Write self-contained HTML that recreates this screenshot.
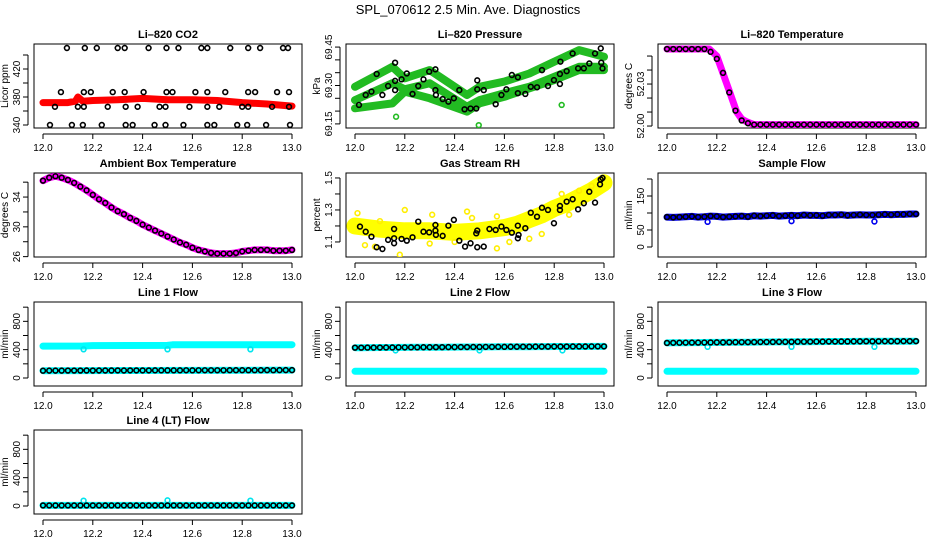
<!DOCTYPE html>
<html><head><meta charset="utf-8"><style>
html,body{margin:0;padding:0;background:#fff;}
svg{display:block;font-family:"Liberation Sans",Arial,sans-serif;}
</style></head><body>
<svg id="c" width="936" height="540" viewBox="0 0 936 540"></svg>
<script>
// ---------- data ----------
const T41 = [12.000,12.025,12.050,12.075,12.100,12.125,12.150,12.175,12.200,12.225,12.250,12.275,12.300,12.325,12.350,12.375,12.400,12.425,12.450,12.475,12.500,12.525,12.550,12.575,12.600,12.625,12.650,12.675,12.700,12.725,12.750,12.775,12.800,12.825,12.850,12.875,12.900,12.925,12.950,12.975,13.000];
const xTicks = [12.0,12.2,12.4,12.6,12.8,13.0];
const xTickLabels = ["12.0","12.2","12.4","12.6","12.8","13.0"];

// CO2
const co2X = [12.096,12.168,12.216,12.30,12.328,12.424,12.496,12.544,12.636,12.66,12.752,12.824,12.872,12.964,12.984,
 12.072,12.164,12.192,12.28,12.328,12.404,12.496,12.52,12.612,12.66,12.732,12.824,12.852,12.94,12.988,
 12.048,12.14,12.164,12.26,12.332,12.38,12.468,12.492,12.588,12.66,12.708,12.80,12.824,12.92,12.988,
 12.028,12.116,12.16,12.236,12.332,12.36,12.448,12.492,12.564,12.66,12.688,12.78,12.82,12.896,12.992];
const co2Y = [450,450,450,450,450,450,450,450,450,450,450,450,450,450,450,
 387,387,387,387,387,387,387,387,387,387,387,387,387,387,387,
 366,366,366,366,366,366,366,366,366,366,366,366,366,366,366,
 340,340,340,340,340,340,340,340,340,340,340,340,340,340,340];
const co2BandX = [12.0,12.1,12.13,12.14,12.16,12.2,12.3,12.4,12.5,12.6,12.7,12.8,12.9,13.0];
const co2BandY = [372,372,374,380,374,375,376,378,376,376,375,372,370,367];

// Pressure
const presBandX = [12.0,12.15,12.2,12.3,12.45,12.5,12.6,12.7,12.8,12.9,13.0];
const presBandA = [69.295,69.373,69.328,69.36,69.263,69.295,69.315,69.347,69.393,69.438,69.412];
const presBandB = [69.243,69.309,69.285,69.309,69.217,69.243,69.27,69.295,69.334,69.373,69.373];
const presBandC = [69.211,69.23,69.276,69.25,69.198,69.23,69.256,69.289,69.321,69.36,69.36];
const presX = [12.016,12.043,12.066,12.087,12.11,12.133,12.161,12.161,12.161,12.187,12.208,12.231,12.254,12.275,12.298,12.323,12.323,12.325,12.352,12.375,12.397,12.419,12.44,12.464,12.487,12.491,12.491,12.517,12.565,12.588,12.608,12.63,12.654,12.654,12.684,12.706,12.731,12.751,12.775,12.799,12.823,12.823,12.825,12.85,12.874,12.896,12.919,12.941,12.964,12.987,12.989,12.994];
const presY = [69.224,69.263,69.276,69.345,69.263,69.298,69.318,69.282,69.389,69.324,69.347,69.267,69.298,69.324,69.354,69.363,69.282,69.263,69.247,69.237,69.25,69.282,69.207,69.21,69.21,69.32,69.285,69.282,69.227,69.263,69.285,69.341,69.332,69.27,69.267,69.295,69.293,69.36,69.298,69.321,69.306,69.345,69.393,69.356,69.425,69.367,69.367,69.386,69.425,69.445,69.389,69.367];
const presOutX = [12.165,12.497,12.83];
const presOutY = [69.178,69.145,69.224];

// Li-820 temperature
const tempBandX = [12.0,12.17,12.2,12.22,12.25,12.28,12.3,12.32,12.35,13.0];
const tempBandY = [52.055,52.055,52.05,52.04,52.025,52.01,52.005,52.003,52.001,52.001];
const tempY = [52.055,52.055,52.055,52.055,52.055,52.055,52.055,52.053,52.048,52.038,52.024,52.011,52.004,52.002,
 52.001,52.001,52.001,52.001,52.001,52.001,52.001,52.001,52.001,52.001,52.001,52.001,52.001,52.001,52.001,52.001,52.001,52.001,52.001,52.001,52.001,52.001,52.001,52.001,52.001,52.001,52.001];

// Ambient box temperature
const ambY = [36.2,36.6,36.8,36.6,36.3,35.9,35.4,34.9,34.3,33.7,33.2,32.6,32.1,31.7,31.2,30.8,30.3,29.9,29.5,29.1,28.7,28.3,27.9,27.6,27.2,26.9,26.7,26.5,26.4,26.4,26.4,26.5,26.7,26.8,26.9,26.9,26.9,26.8,26.8,26.8,26.9];

// Gas stream RH
const rhBandX = [12.0,12.1,12.2,12.3,12.4,12.5,12.6,12.65,12.7,12.75,12.8,12.85,12.9,12.95,13.0];
const rhBandY = [1.2,1.18,1.17,1.17,1.16,1.17,1.19,1.21,1.24,1.27,1.31,1.34,1.38,1.42,1.47];
const rhX = [12.02,12.043,12.066,12.087,12.11,12.133,12.157,12.157,12.157,12.187,12.208,12.231,12.254,12.275,12.298,12.323,12.323,12.325,12.352,12.375,12.397,12.419,12.442,12.464,12.487,12.491,12.491,12.517,12.54,12.565,12.588,12.608,12.63,12.654,12.654,12.657,12.684,12.706,12.731,12.751,12.775,12.799,12.823,12.823,12.85,12.874,12.896,12.919,12.941,12.964,12.984,12.987,12.994];
const rhY = [1.196,1.164,1.133,1.067,1.056,1.113,1.123,1.092,1.181,1.119,1.108,1.129,1.227,1.164,1.16,1.206,1.171,1.144,1.138,1.202,1.238,1.108,1.071,1.092,1.154,1.171,1.067,1.071,1.181,1.175,1.196,1.175,1.158,1.202,1.123,1.144,1.186,1.283,1.258,1.314,1.3,1.217,1.325,1.3,1.352,1.367,1.304,1.342,1.414,1.346,1.46,1.49,1.5];
const rhYelX = [12.01,12.2,12.31,12.45,12.57,12.18,12.57,12.04,12.75,12.9,12.83,12.7,12.1,12.4,12.62,12.3,12.47,12.86,12.95,12.08];
const rhYelY = [1.28,1.3,1.27,1.29,1.26,1.02,1.06,1.08,1.15,1.42,1.4,1.12,1.23,1.1,1.1,1.09,1.25,1.27,1.45,1.07];

// Sample flow
const sfY = [88,87,88,89,90,88,89,91,90,88,89,90,91,89,92,91,92,93,91,92,93,92,94,93,93,92,94,94,95,93,94,95,94,94,95,96,95,96,96,97,97];
const sfDipX = [12.163,12.5,12.833];
const sfDipY = [74,76,75];

// Line flows
const l1Y = [103,104,104,104,105,105,105,106,105,106,106,106,107,106,107,107,107,107,108,108,108,108,108,109,108,109,109,109,109,109,110,110,110,110,110,110,111,110,111,111,111];
const l1UpX = [12.0,12.16,12.2,12.5,12.52,13.0];
const l1UpY = [450,452,458,460,468,470];
const l1LowX = [12.0,13.0];
const l1LowY = [103,111];
const l2Y = [428,428,429,429,430,431,431,432,432,433,433,434,434,435,435,436,436,437,437,438,438,439,439,440,440,441,441,442,442,443,443,443,444,444,444,445,445,445,446,446,446];
const l2LowX = [12.0,13.0];
const l2LowY = [95,96];
const l3Y = [495,497,498,499,500,500,501,502,503,503,504,505,506,506,507,508,508,509,510,510,511,512,512,513,514,514,515,515,516,516,517,517,518,518,518,519,519,519,520,520,520];
const l3LowX = [12.0,13.0];
const l3LowY = [95,96];
const l4Y = [8,8,8,8,8,8,8,8,8,8,8,8,8,8,8,8,8,8,8,8,8,8,8,8,8,8,8,8,8,8,8,8,8,8,8,8,8,8,8,8,8];
const l4BandX = [12.0,13.0];
const l4BandY = [8,8];
const flowDipX = [12.163,12.5,12.833];
const l1DipY = [405,405,405];
const l2DipY = [390,390,390];
const l3DipY = [440,440,440];
const l4DipY = [75,80,75];

// ---------- drawing ----------
const NS = "http://www.w3.org/2000/svg";
const svg = document.getElementById("c");
function mk(tag, attrs, parent){
  const e = document.createElementNS(NS, tag);
  for (const k in attrs) e.setAttribute(k, attrs[k]);
  (parent||svg).appendChild(e);
  return e;
}
const colsL = [34,346,658], rowsT = [44,173,302,430], W = 268, H = 84;

function panel(col,row,name,title,ylab,ylim,yt,ylabs){
  const L = colsL[col], T = rowsT[row];
  const g = mk("g",{});
  
  
  const sx = v => L + 9 + (v-12)*249;
  const sy = v => T + H - (v-ylim[0])/(ylim[1]-ylim[0])*H;
  const box = mk("rect",{x:L,y:T,width:W,height:H,fill:"none",stroke:"#000","stroke-width":1},g);
  
  
  const t = mk("text",{x:L+W/2,y:T-6,"text-anchor":"middle","font-size":"11","font-weight":"bold"},g);
  t.textContent = title;
  
  
  const xa = mk("g",{},g);
  
  
  mk("line",{x1:sx(xTicks[0]),x2:sx(xTicks[xTicks.length-1]),y1:T+H+6,y2:T+H+6,stroke:"#000"},xa);
  xTicks.forEach((v,i)=>{
    mk("line",{x1:sx(v),x2:sx(v),y1:T+H+6,y2:T+H+11,stroke:"#000"},xa);
    const tl = mk("text",{x:sx(v),y:T+H+23,"text-anchor":"middle","font-size":"10"},xa);
    tl.textContent = xTickLabels[i];
    
    
  });
  const ya = mk("g",{},g);
  
  
  mk("line",{x1:L-6,x2:L-6,y1:sy(yt[0]),y2:sy(yt[yt.length-1]),stroke:"#000"},ya);
  yt.forEach(v=>{
    mk("line",{x1:L-11,x2:L-6,y1:sy(v),y2:sy(v),stroke:"#000"},ya);
  });
  ylabs.forEach(l=>{
    const v = parseFloat(l);
    const tl = mk("text",{x:0,y:0,"text-anchor":"middle","font-size":"10",transform:`translate(${L-14},${sy(v)}) rotate(-90)`},ya);
    tl.textContent = l;
    
    
  });
  const yl = mk("text",{x:0,y:0,"text-anchor":"middle","font-size":"10",transform:`translate(${L-26},${T+H/2}) rotate(-90)`},g);
  yl.textContent = ylab;
  
  
  const clip = "clip"+col+row;
  const cp = mk("clipPath",{id:clip},g);
  mk("rect",{x:L,y:T,width:W,height:H},cp);
  const plot = mk("g",{"clip-path":`url(#${clip})`},g);
  return {sx,sy,plot};
}
function band(p,xs,ys,color,w,name){
  const pts = xs.map((x,i)=>p.sx(x).toFixed(1)+","+p.sy(ys[i]).toFixed(1)).join(" ");
  const e = mk("polyline",{points:pts,fill:"none",stroke:color,"stroke-width":w,"stroke-linejoin":"round","stroke-linecap":"round"},p.plot);
  
  
}
function pts(p,xs,ys,color,name,r){
  xs.forEach((x,i)=>{
    const c = mk("circle",{cx:p.sx(x),cy:p.sy(ys[i]),r:r||2.4,fill:"none",stroke:color,"stroke-width":1.6},p.plot);
    
    
  });
}

// main title
const mt = mk("text",{x:468,y:14,"text-anchor":"middle","font-size":"13"});
mt.textContent = "SPL_070612  2.5 Min. Ave. Diagnostics";



let p;
p = panel(0,0,"co2","Li\u2013820 CO2","Licor ppm",[335.7,455.7],[340,360,380,400,420,440],["340","380","420"]);
band(p,co2BandX,co2BandY,"#ff0000",7,"co2-band");
pts(p,co2X,co2Y,"#000","co2-point");

p = panel(1,0,"pressure","Li\u2013820 Pressure","kPa",[69.134,69.462],[69.15,69.20,69.25,69.30,69.35,69.40,69.45],["69.15","69.30","69.45"]);
band(p,presBandX,presBandA,"#22bb22",8,"pressure-band-a");
band(p,presBandX,presBandB,"#22bb22",8,"pressure-band-b");
band(p,presBandX,presBandC,"#22bb22",8,"pressure-band-c");
pts(p,presOutX,presOutY,"#22bb22","pressure-outlier");
pts(p,presX,presY,"#000","pressure-point");

p = panel(2,0,"li820-temp","Li\u2013820 Temperature","degrees C",[51.9986,52.0586],[52.00,52.01,52.02,52.03,52.04,52.05],["52.00","52.03"]);
band(p,tempBandX,tempBandY,"#ff00ff",7,"temp-band");
pts(p,T41,tempY,"#000","temp-point");

p = panel(0,1,"ambient","Ambient Box Temperature","degrees C",[25.95,37.23],[26,28,30,32,34,36],["26","30","34"]);
band(p,T41,ambY,"#ff00ff",7,"ambient-band");
pts(p,T41,ambY,"#000","ambient-point");

p = panel(1,1,"rh","Gas Stream RH","percent",[1.006,1.531],[1.1,1.2,1.3,1.4,1.5],["1.1","1.3","1.5"]);
band(p,rhBandX,rhBandY,"#ffff00",17,"rh-band");
pts(p,rhYelX,rhYelY,"#ffee00","rh-scatter");
pts(p,rhX,rhY,"#000","rh-point");

p = panel(2,1,"sample-flow","Sample Flow","ml/min",[-29.4,217.6],[0,50,100,150,200],["0","50","150"]);
band(p,T41,sfY,"#0000ee",7,"sample-flow-band");
pts(p,sfDipX,sfDipY,"#0000ee","sample-flow-dip");
pts(p,T41,sfY,"#000","sample-flow-point");

const flowLim = [-113,1073], flowT = [0,200,400,600,800,1000], flowL = ["0","400","800"];
p = panel(0,2,"line1","Line 1 Flow","ml/min",flowLim,flowT,flowL);
band(p,l1UpX,l1UpY,"#00ffff",7,"line1-upper-band");
band(p,l1LowX,l1LowY,"#00ffff",7,"line1-lower-band");
pts(p,flowDipX,l1DipY,"#00e5ee","line1-dip");
pts(p,T41,l1Y,"#000","line1-point");

p = panel(1,2,"line2","Line 2 Flow","ml/min",flowLim,flowT,flowL);
band(p,T41,l2Y,"#00ffff",7,"line2-upper-band");
band(p,l2LowX,l2LowY,"#00ffff",7,"line2-lower-band");
pts(p,flowDipX,l2DipY,"#00e5ee","line2-dip");
pts(p,T41,l2Y,"#000","line2-point");

p = panel(2,2,"line3","Line 3 Flow","ml/min",flowLim,flowT,flowL);
band(p,T41,l3Y,"#00ffff",7,"line3-upper-band");
band(p,l3LowX,l3LowY,"#00ffff",7,"line3-lower-band");
pts(p,flowDipX,l3DipY,"#00e5ee","line3-dip");
pts(p,T41,l3Y,"#000","line3-point");

p = panel(0,3,"line4","Line 4 (LT) Flow","ml/min",flowLim,flowT,flowL);
band(p,l4BandX,l4BandY,"#00ffff",7,"line4-band");
pts(p,flowDipX,l4DipY,"#00e5ee","line4-dip");
pts(p,T41,l4Y,"#000","line4-point");
</script>
</body></html>
